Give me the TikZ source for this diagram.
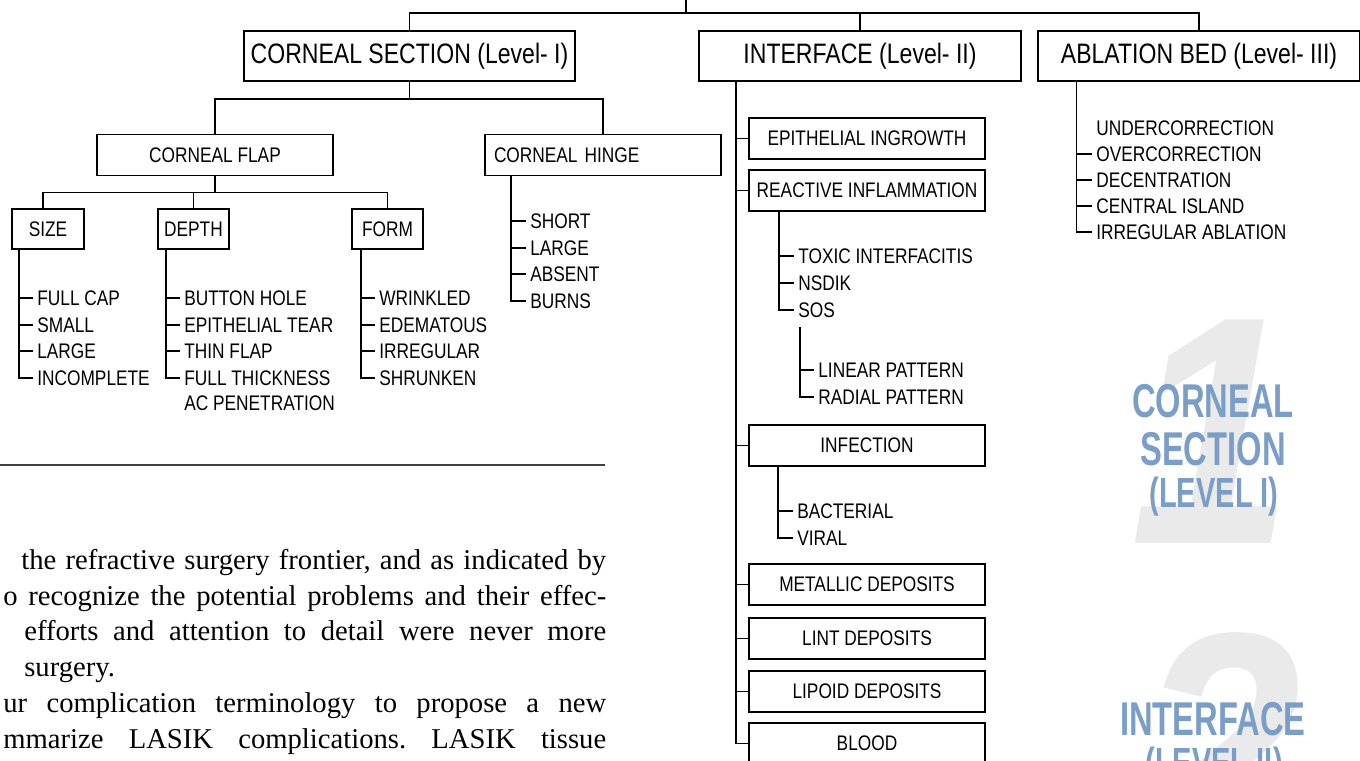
\documentclass[tikz,border=0pt]{standalone}
\usepackage{fontspec}
\newfontfamily\diagfont[FakeStretch=0.82]{Liberation Sans}
\newfontfamily\markfont[FakeStretch=0.69]{Liberation Sans}
\newfontfamily\digitfont[FakeStretch=0.9]{Liberation Sans}
\newfontfamily\bodyfont{Liberation Serif}
\definecolor{markblue}{RGB}{122,158,200}
\definecolor{markgray}{RGB}{234,234,234}
\newcommand{\pxu}{0.02cm}
\tikzset{
  link/.style={line width=0.8pt},
  headbox/.style={draw, line width=1.1pt, minimum height=50*\pxu, inner sep=0pt,
    font=\diagfont\fontsize{16}{18}\selectfont},
  subbox/.style={draw, line width=1pt, minimum width=236*\pxu, minimum height=41*\pxu,
    inner sep=0pt, font=\diagfont\fontsize{12}{14}\selectfont},
  item/.style={anchor=west, inner xsep=4*\pxu, inner ysep=0pt,
    font=\diagfont\fontsize{12}{14}\selectfont},
  markword/.style={text=markblue, inner sep=0pt},
  bigdigit/.style={text=markgray, inner sep=0pt,
    font=\digitfont\bfseries\itshape\fontsize{185}{185}\selectfont},
  bodyline/.style={anchor=base west, inner sep=0pt,
    font=\bodyfont\fontsize{16.3}{19}\selectfont\frenchspacing}
}
\begin{document}
\begin{tikzpicture}[x=0.02cm, y=-0.02cm]
\useasboundingbox (0,0) rectangle (1360,761);
\clip (0,0) rectangle (1360,761);

% watermarks on the right
\node[bigdigit] (one) at (1212,432) {1};
\node[bigdigit] (two) at (1220,746) {2};
\node[markword, font=\markfont\bfseries\fontsize{27}{30}\selectfont] (mk1) at (1213,401) {CORNEAL};
\node[markword, font=\markfont\bfseries\fontsize{27}{30}\selectfont] (mk2) at (1213,449) {SECTION};
\node[markword, font=\markfont\bfseries\fontsize{24}{28}\selectfont] (mk3) at (1214,497) {(LEVEL I)};
\node[markword, font=\markfont\bfseries\fontsize{27}{30}\selectfont] (mk4) at (1213,719) {INTERFACE};
\node[markword, font=\markfont\bfseries\fontsize{24}{28}\selectfont] (mk5) at (1214,767) {(LEVEL II)};

% level boxes
\coordinate (top) at (686,0);
\node[headbox, minimum width=331*\pxu] (cs) at (409.5,56) {CORNEAL SECTION (Level- I)};
\node[headbox, minimum width=322*\pxu] (intf) at (860,56) {INTERFACE (Level- II)};
\node[headbox, minimum width=322*\pxu, line width=1.6pt] (abl) at (1199,56) {ABLATION BED (Level- III)};
\draw[link] (top) -- ++(0,13) coordinate (bar);
\draw[link] (bar) -| (cs.north);
\draw[link] (bar) -| (intf.north);
\draw[link, line width=1.5pt] (bar) -| (abl.north);

% corneal section
\node[subbox] (flap) at (215,155) {CORNEAL FLAP};
\node[subbox, align=left, text width=218*\pxu] (hinge) at (603,155) {CORNEAL HINGE};
\draw[link] (cs.south) -- ++(0,17) coordinate (csbar);
\draw[link] (csbar) -| (flap.north);
\draw[link] (csbar) -| (hinge.north);

\node[subbox, minimum width=72*\pxu, minimum height=40*\pxu] (size) at (48,229) {SIZE};
\node[subbox, minimum width=71*\pxu, minimum height=40*\pxu] (depth) at (193.5,229) {DEPTH};
\node[subbox, minimum width=71*\pxu, minimum height=40*\pxu] (form) at (387.5,229) {FORM};
\draw[link] (flap.south) -- ++(0,16) coordinate (flbar);
\draw[link] (flbar) -| ([xshift=-5*\pxu]size.north);
\draw[link] (flbar) -| (depth.north);
\draw[link] (flbar) -| (form.north);

\coordinate (szroot) at ([xshift=8*\pxu]size.south west);
\foreach \i/\txt/\yy in {1/FULL CAP/298, 2/SMALL/325, 3/LARGE/351, 4/INCOMPLETE/378} {
  \node[item] (sz\i) at (33,\yy) {\txt};
  \draw[link] (szroot) |- (sz\i.west);
}
\coordinate (dproot) at ([xshift=9*\pxu]depth.south west);
\foreach \i/\txt/\yy in {1/BUTTON HOLE/298, 2/EPITHELIAL TEAR/325, 3/THIN FLAP/351, 4/FULL THICKNESS/378} {
  \node[item] (dp\i) at (180,\yy) {\txt};
  \draw[link] (dproot) |- (dp\i.west);
}
\node[item] (dp5) at (180,403) {AC PENETRATION};
\coordinate (fmroot) at ([xshift=10*\pxu]form.south west);
\foreach \i/\txt/\yy in {1/WRINKLED/298, 2/EDEMATOUS/325, 3/IRREGULAR/351, 4/SHRUNKEN/378} {
  \node[item] (fm\i) at (375,\yy) {\txt};
  \draw[link] (fmroot) |- (fm\i.west);
}
\coordinate (hgroot) at ([xshift=27*\pxu]hinge.south west);
\foreach \i/\txt/\yy in {1/SHORT/221, 2/LARGE/248, 3/ABSENT/274, 4/BURNS/301} {
  \node[item] (hg\i) at (526,\yy) {\txt};
  \draw[link] (hgroot) |- (hg\i.west);
}

% interface
\coordinate (introot) at ([xshift=38*\pxu]intf.south west);
\foreach \name/\txt/\yy in {ingr/EPITHELIAL INGROWTH/138.5, reac/REACTIVE INFLAMMATION/190.5,
    infc/INFECTION/445.5, metl/METALLIC DEPOSITS/584.5, lint/LINT DEPOSITS/638.5,
    lipd/LIPOID DEPOSITS/691.5, blod/BLOOD/743.5} {
  \node[subbox] (\name) at (867,\yy) {\txt};
  \draw[link] (introot) |- (\name.west);
}
\coordinate (reroot) at ([xshift=31*\pxu]reac.south west);
\foreach \i/\txt/\yy in {1/TOXIC INTERFACITIS/256, 2/NSDIK/283, 3/SOS/310} {
  \node[item] (re\i) at (794,\yy) {\txt};
  \draw[link] (reroot) |- (re\i.west);
}
\coordinate (ptroot) at (800,327);
\foreach \i/\txt/\yy in {1/LINEAR PATTERN/370, 2/RADIAL PATTERN/397} {
  \node[item] (pt\i) at (814,\yy) {\txt};
  \draw[link] (ptroot) |- (pt\i.west);
}
\coordinate (ifroot) at ([xshift=30*\pxu]infc.south west);
\foreach \i/\txt/\yy in {1/BACTERIAL/511, 2/VIRAL/538} {
  \node[item] (if\i) at (793,\yy) {\txt};
  \draw[link] (ifroot) |- (if\i.west);
}

% ablation bed
\coordinate (abroot) at ([xshift=40*\pxu]abl.south west);
\node[item] (ab0) at (1092,128) {UNDERCORRECTION};
\foreach \i/\txt/\yy in {1/OVERCORRECTION/154, 2/DECENTRATION/180, 3/CENTRAL ISLAND/206, 4/IRREGULAR ABLATION/232} {
  \node[item] (ab\i) at (1092,\yy) {\txt};
  \draw[link] (abroot) |- (ab\i.west);
}

% page text under the chart
\coordinate (ruleA) at (0,465);
\coordinate (ruleB) at (605,465);
\draw[black!75, line width=0.7pt] (ruleA) -- (ruleB);
\node[bodyline] (ln1) at (21,569) {\makebox[11.7cm][s]{the refractive surgery frontier, and as indicated by}};
\node[bodyline] (ln2) at (3,605) {\makebox[12.06cm][s]{o recognize the potential problems and their effec-}};
\node[bodyline] (ln3) at (24,640) {\makebox[11.64cm][s]{efforts and attention to detail were never more}};
\node[bodyline] (ln4) at (24,676) {surgery.};
\node[bodyline] (ln5) at (3,712) {\makebox[12.06cm][s]{ur complication terminology to propose a new}};
\node[bodyline] (ln6) at (3,748) {\makebox[12.06cm][s]{mmarize LASIK complications. LASIK tissue}};
\end{tikzpicture}
\end{document}
